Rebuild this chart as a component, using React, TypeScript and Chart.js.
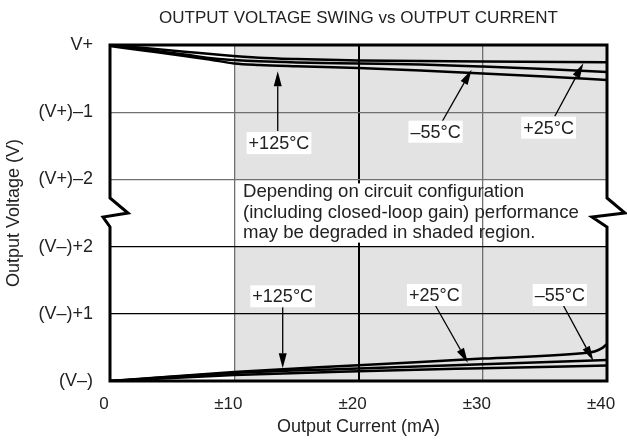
import React, { useEffect, useRef } from 'react';
import { Chart, registerables } from 'chart.js';

Chart.register(...registerables);

const FONT = "'Liberation Sans', Arial, Helvetica, sans-serif";

const titleText = 'OUTPUT VOLTAGE SWING vs OUTPUT CURRENT';
const xTitle = 'Output Current (mA)';
const yTitle = 'Output Voltage (V)';
const xTickValues = [0, 10, 20, 30, 40];
const xTickLabels = ['0', '±10', '±20', '±30', '±40'];
const yTickLabels = ['(V–)', '(V–)+1', '(V–)+2', '(V+)–2', '(V+)–1', 'V+'];

// Positive swing (near V+), y in axis units (V+ = 5)
const posX25 = [0, 3, 6, 9, 12, 15, 20, 30, 40];
const posY25 = [5.0, 4.95, 4.9, 4.85, 4.81, 4.79, 4.77, 4.755, 4.745];
const posXm55 = [0, 3, 6, 8, 10, 12, 15, 20, 25, 30, 35, 40];
const posYm55 = [4.993, 4.926, 4.859, 4.807, 4.777, 4.757, 4.74, 4.725, 4.71, 4.68, 4.643, 4.598];
const posX125 = [0, 3, 6, 8, 10, 12, 15, 20, 25, 30, 35, 40];
const posY125 = [4.985, 4.911, 4.836, 4.784, 4.725, 4.702, 4.683, 4.658, 4.621, 4.576, 4.531, 4.479];

// Negative swing (near V–), y in axis units (V– = 0)
const negXm55 = [0, 10, 20, 30, 38, 39, 39.6, 40];
const negYm55 = [0, 0.134, 0.234, 0.333, 0.413, 0.44, 0.49, 0.55];
const negX25 = [0, 10, 20, 30, 40];
const negY25 = [0, 0.12, 0.186, 0.25, 0.313];
const negX125 = [0, 10, 20, 30, 40];
const negY125 = [0, 0.09, 0.146, 0.19, 0.231];

// Shaded region and axis break
const shadeXFrom = 10;
const shadeXTo = 40;
const breakLow = 2;
const breakHigh = 3;

// Note text
const noteLines = [
  'Depending on circuit configuration',
  '(including closed-loop gain) performance',
  'may be degraded in shaded region.',
];
const noteX = 10.7;
const noteY = [2.81, 2.5, 2.2];

// Temperature labels with arrows
const labelTexts = ['+125°C', '–55°C', '+25°C', '+125°C', '+25°C', '–55°C'];
const labelX = [13.6, 26.2, 35.3, 13.9, 26.1, 36.2];
const labelY = [3.54, 3.71, 3.77, 1.26, 1.28, 1.28];
const tailX = [13.5, 26.7, 35.8, 13.9, 26.2, 36.5];
const tailY = [3.72, 3.85, 3.94, 1.1, 1.12, 1.12];
const tipX = [13.5, 29.1, 38.1, 13.9, 28.8, 38.9];
const tipY = [4.61, 4.63, 4.73, 0.19, 0.27, 0.3];

const toPts = (xs: number[], ys: number[]) => xs.map((x, i) => ({ x, y: ys[i] }));

const curve = (label: string, xs: number[], ys: number[]) => ({
  label,
  data: toPts(xs, ys),
  borderColor: '#000',
  borderWidth: 2.5,
  pointRadius: 0,
  showLine: true,
  fill: false,
  tension: 0.35,
  cubicInterpolationMode: 'monotone' as const,
});

const decorPlugin = {
  id: 'decor',
  beforeDraw(chart: any) {
    const { ctx, scales } = chart;
    const x = scales.x;
    const y = scales.y;
    ctx.save();
    ctx.fillStyle = '#e3e3e3';
    const x0 = x.getPixelForValue(shadeXFrom);
    const x1 = x.getPixelForValue(shadeXTo);
    const yTop = y.getPixelForValue(5);
    const yB3 = y.getPixelForValue(breakHigh);
    const yB2 = y.getPixelForValue(breakLow);
    const yBot = y.getPixelForValue(0);
    ctx.fillRect(x0, yTop, x1 - x0, yB3 - yTop);
    ctx.fillRect(x0, yB2, x1 - x0, yBot - yB2);
    ctx.restore();
  },
  beforeDatasetsDraw(chart: any) {
    const { ctx, scales } = chart;
    const x = scales.x;
    const y = scales.y;
    const x20 = x.getPixelForValue(20);
    const yB3 = y.getPixelForValue(breakHigh);
    const yB2 = y.getPixelForValue(breakLow);
    ctx.save();
    ctx.fillStyle = '#fff';
    ctx.fillRect(x20 - 2, yB3 + 4, 4, yB2 - yB3 - 8);
    ctx.restore();
  },
  afterDatasetsDraw(chart: any) {
    const { ctx, chartArea, scales } = chart;
    const x = scales.x;
    const y = scales.y;
    const { left, right, top, bottom } = chartArea;
    const yMid = y.getPixelForValue((breakLow + breakHigh) / 2);
    ctx.save();
    // title
    ctx.fillStyle = '#222';
    ctx.font = `17px ${FONT}`;
    ctx.textAlign = 'center';
    ctx.textBaseline = 'middle';
    ctx.fillText(titleText, (left + right) / 2, 18);

    // frame with break marks
    ctx.strokeStyle = '#000';
    ctx.lineWidth = 3;
    ctx.lineJoin = 'miter';
    ctx.beginPath();
    ctx.moveTo(left, top);
    ctx.lineTo(right, top);
    ctx.lineTo(right, yMid - 15);
    ctx.lineTo(right + 18, yMid);
    ctx.lineTo(right - 15, yMid + 4);
    ctx.lineTo(right, yMid + 14);
    ctx.lineTo(right, bottom);
    ctx.lineTo(left, bottom);
    ctx.lineTo(left, yMid + 14);
    ctx.lineTo(left - 7, yMid + 4);
    ctx.lineTo(left + 18, yMid);
    ctx.lineTo(left, yMid - 15);
    ctx.closePath();
    ctx.stroke();

    // note text
    ctx.fillStyle = '#222';
    ctx.font = `18.6px ${FONT}`;
    ctx.textAlign = 'left';
    ctx.textBaseline = 'middle';
    noteLines.forEach((t, i) => {
      ctx.fillText(t, x.getPixelForValue(noteX), y.getPixelForValue(noteY[i]));
    });

    // arrows and labels
    labelTexts.forEach((t, i) => {
      const tx = x.getPixelForValue(tailX[i]);
      const ty = y.getPixelForValue(tailY[i]);
      const hx = x.getPixelForValue(tipX[i]);
      const hy = y.getPixelForValue(tipY[i]);
      const ang = Math.atan2(hy - ty, hx - tx);
      const len = 15;
      const hw = 4;
      const bx = hx - len * Math.cos(ang);
      const by = hy - len * Math.sin(ang);
      ctx.strokeStyle = '#000';
      ctx.lineWidth = 1.3;
      ctx.beginPath();
      ctx.moveTo(tx, ty);
      ctx.lineTo(bx, by);
      ctx.stroke();
      ctx.fillStyle = '#000';
      ctx.beginPath();
      ctx.moveTo(hx, hy);
      ctx.lineTo(bx + hw * Math.sin(ang), by - hw * Math.cos(ang));
      ctx.lineTo(bx - hw * Math.sin(ang), by + hw * Math.cos(ang));
      ctx.closePath();
      ctx.fill();

      const cx = x.getPixelForValue(labelX[i]);
      const cy = y.getPixelForValue(labelY[i]);
      ctx.font = `18px ${FONT}`;
      const w = ctx.measureText(t).width;
      ctx.fillStyle = '#fff';
      ctx.fillRect(cx - w / 2 - 2, cy - 11, w + 4, 22);
      ctx.fillStyle = '#222';
      ctx.textAlign = 'center';
      ctx.textBaseline = 'middle';
      ctx.fillText(t, cx, cy + 1);
    });
    ctx.restore();
  },
};

export default function App() {
  const ref = useRef<HTMLCanvasElement | null>(null);
  useEffect(() => {
    document.body.style.margin = '0';
    const canvas = ref.current;
    if (!canvas) return;
    const chart = new Chart(canvas, {
      type: 'scatter',
      data: {
        datasets: [
          curve('+25°C (V+)', posX25, posY25),
          curve('–55°C (V+)', posXm55, posYm55),
          curve('+125°C (V+)', posX125, posY125),
          curve('–55°C (V–)', negXm55, negYm55),
          curve('+25°C (V–)', negX25, negY25),
          curve('+125°C (V–)', negX125, negY125),
        ],
      },
      options: {
        responsive: false,
        animation: false,
        layout: { padding: { top: 45, right: 20, left: 0, bottom: 0 } },
        plugins: {
          legend: { display: false },
          tooltip: { enabled: false },
          title: { display: false },
        },
        scales: {
          x: {
            type: 'linear',
            min: 0,
            max: 40,
            afterBuildTicks: (s: any) => {
              s.ticks = xTickValues.map((v) => ({ value: v }));
            },
            afterFit: (s: any) => {
              s.height = 63;
              s.paddingLeft = 0;
              s.paddingRight = 0;
            },
            ticks: {
              color: '#222',
              font: { family: FONT, size: 17, lineHeight: 1.2 },
              padding: 13,
              labelOffset: -6,
              maxRotation: 0,
              callback: (v: any) => xTickLabels[xTickValues.indexOf(Number(v))] ?? '',
            },
            grid: {
              drawTicks: false,
              color: (c: any) => {
                const v = c.tick?.value;
                if (v === 20) return '#000';
                if (v === 10 || v === 30) return '#707070';
                return 'rgba(0,0,0,0)';
              },
              lineWidth: (c: any) => (c.tick?.value === 20 ? 2 : 1.3),
            },
            border: { display: false },
            title: {
              display: true,
              text: xTitle,
              color: '#222',
              font: { family: FONT, size: 18, lineHeight: 1.2 },
              padding: { top: 0, bottom: 6 },
            },
          },
          y: {
            type: 'linear',
            min: 0,
            max: 5,
            afterBuildTicks: (s: any) => {
              s.ticks = yTickLabels.map((_, i) => ({ value: i }));
            },
            afterFit: (s: any) => {
              s.width = 110;
              s.paddingTop = 0;
              s.paddingBottom = 0;
            },
            ticks: {
              color: '#222',
              font: { family: FONT, size: 18, lineHeight: 1.2 },
              padding: 17,
              callback: (v: any) => yTickLabels[Number(v)] ?? '',
            },
            grid: {
              drawTicks: false,
              color: (c: any) => {
                const v = c.tick?.value;
                if (v === 1 || v === 2) return '#000';
                if (v === 3 || v === 4) return '#707070';
                return 'rgba(0,0,0,0)';
              },
              lineWidth: 1.3,
            },
            border: { display: false },
            title: {
              display: true,
              text: yTitle,
              color: '#222',
              font: { family: FONT, size: 18, lineHeight: 1.2 },
              padding: { top: 3, bottom: 0 },
            },
          },
        },
      },
      plugins: [decorPlugin],
    } as any);
    return () => chart.destroy();
  }, []);
  return (
    <div style={{ width: 627, height: 444 }}>
      <canvas ref={ref} width={627} height={444} />
    </div>
  );
}
